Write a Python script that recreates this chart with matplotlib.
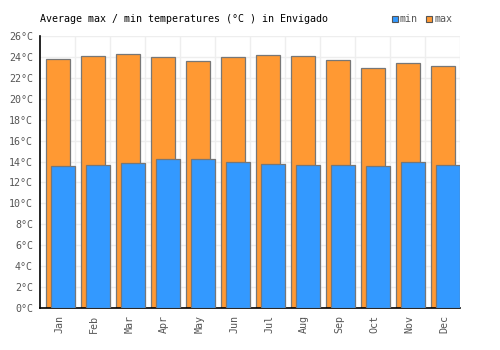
import numpy as np
import matplotlib.pyplot as plt

months = ['Jan', 'Feb', 'Mar', 'Apr', 'May', 'Jun',
          'Jul', 'Aug', 'Sep', 'Oct', 'Nov', 'Dec']
t_max = [23.8, 24.1, 24.3, 24.0, 23.6, 24.0, 24.2, 24.1, 23.7, 22.9, 23.4, 23.1]
t_min = [13.6, 13.7, 13.9, 14.2, 14.2, 14.0, 13.8, 13.7, 13.7, 13.6, 14.0, 13.7]
y_ticks = list(range(0, 27, 2))

plt.rcParams['font.family'] = 'DejaVu Sans Mono'

fig = plt.figure(figsize=(5, 3.5), dpi=100)
ax = fig.add_axes([0.08, 0.12, 0.84, 0.777])

x = np.arange(len(months))
edge = '#777777'
ax.bar(x + 0.17, t_max, width=0.68, align='edge', color='#ff9933',
       edgecolor=edge, linewidth=0.9, zorder=2)
ax.bar(x + 0.31, t_min, width=0.69, align='edge', color='#3399ff',
       edgecolor=edge, linewidth=0.9, zorder=3)

ax.set_xlim(0, 12)
ax.set_ylim(0, 26)
ax.set_yticks(y_ticks)
ax.set_yticklabels([f'{v}°C' for v in y_ticks])
ax.set_xticks(x + 0.55)
ax.set_xticklabels(months, rotation=90)
ax.set_xticks(np.arange(1, 13), minor=True)
ax.tick_params(axis='both', which='both', length=0, labelsize=7.2,
               labelcolor='#555555')
ax.tick_params(axis='y', pad=5)
ax.tick_params(axis='x', pad=5)
ax.grid(True, axis='y', color='#eeeeee', linewidth=1, zorder=0)
ax.grid(True, axis='x', which='minor', color='#eeeeee', linewidth=1, zorder=0)
ax.set_axisbelow(True)

for s in ['top', 'right']:
    ax.spines[s].set_visible(False)
ax.spines['left'].set_color('black')
ax.spines['bottom'].set_color('black')
ax.spines['left'].set_linewidth(1.2)
ax.spines['bottom'].set_linewidth(1.2)

fig.text(0.08, 0.945, 'Average max / min temperatures (°C ) in Envigado',
         fontsize=7.2, color='black', va='center', ha='left')

# legend
fig.patches.append(plt.Rectangle((0.783, 0.938), 0.012, 0.017, transform=fig.transFigure,
                                 facecolor='#3399ff', edgecolor='#555555', linewidth=0.8))
fig.text(0.8, 0.946, 'min', fontsize=7.2, color='#555555', va='center')
fig.patches.append(plt.Rectangle((0.852, 0.938), 0.012, 0.017, transform=fig.transFigure,
                                 facecolor='#ff9933', edgecolor='#555555', linewidth=0.8))
fig.text(0.869, 0.946, 'max', fontsize=7.2, color='#555555', va='center')

fig.savefig('out.png', dpi=100)
